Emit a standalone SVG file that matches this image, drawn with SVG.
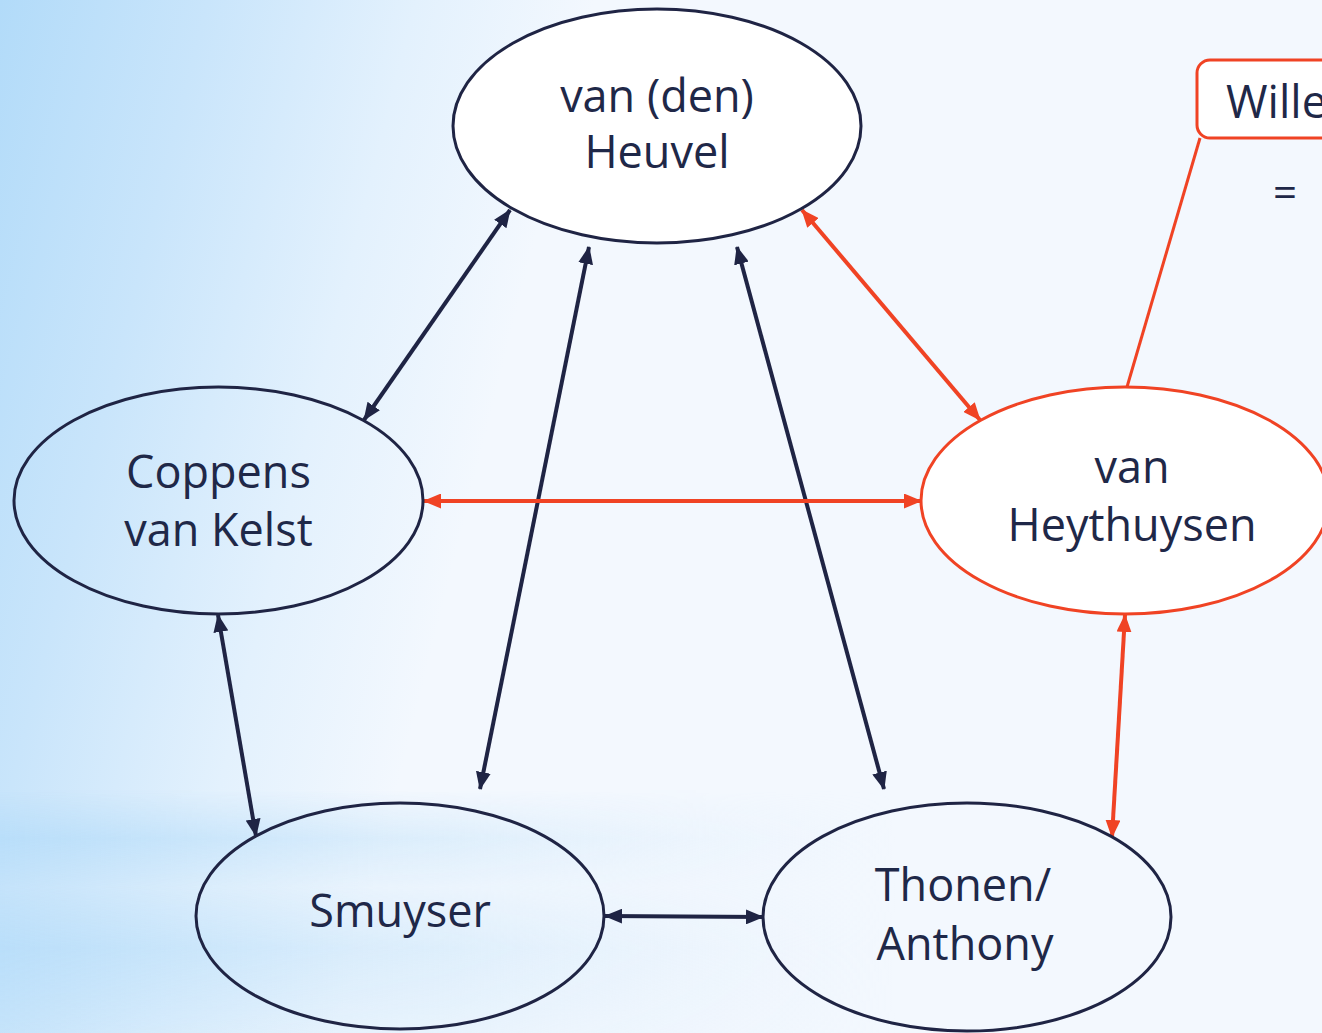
<svg xmlns="http://www.w3.org/2000/svg" width="1322" height="1033" viewBox="0 0 1322 1033">
  <defs>
    <linearGradient id="bg" gradientUnits="userSpaceOnUse" x1="0" y1="0" x2="560" y2="140">
      <stop offset="0" stop-color="#b2dbf9"/>
      <stop offset="0.35" stop-color="#c9e5fb"/>
      <stop offset="0.7" stop-color="#e3f1fd"/>
      <stop offset="1" stop-color="#f3f8fe"/>
    </linearGradient>
    <linearGradient id="band" gradientUnits="userSpaceOnUse" x1="0" y1="0" x2="900" y2="0">
      <stop offset="0" stop-color="#b2dbf9" stop-opacity="0.9"/>
      <stop offset="0.5" stop-color="#c4e3fa" stop-opacity="0.55"/>
      <stop offset="1" stop-color="#e0effc" stop-opacity="0"/>
    </linearGradient>
    <linearGradient id="bandMaskGrad" gradientUnits="userSpaceOnUse" x1="0" y1="790" x2="0" y2="1033">
      <stop offset="0" stop-color="#fff" stop-opacity="0"/>
      <stop offset="0.2" stop-color="#fff" stop-opacity="0.8"/>
      <stop offset="0.4" stop-color="#fff" stop-opacity="0.3"/>
      <stop offset="0.65" stop-color="#fff" stop-opacity="0.8"/>
      <stop offset="1" stop-color="#fff" stop-opacity="0.4"/>
    </linearGradient>
    <mask id="bandMask">
      <rect x="0" y="790" width="1322" height="243" fill="url(#bandMaskGrad)"/>
    </mask>
    <marker id="ad" viewBox="0 0 18 15" refX="17" refY="7.5" markerWidth="18" markerHeight="15" markerUnits="userSpaceOnUse" orient="auto-start-reverse">
      <path d="M0,0 L18,7.5 L0,15 z" fill="#1f2444"/>
    </marker>
    <marker id="ar" viewBox="0 0 18 15" refX="17" refY="7.5" markerWidth="18" markerHeight="15" markerUnits="userSpaceOnUse" orient="auto-start-reverse">
      <path d="M0,0 L18,7.5 L0,15 z" fill="#f04324"/>
    </marker>
  </defs>
  <style>
    .lbl { font-family: "Open Sans", "Noto Sans", "DejaVu Sans", sans-serif; font-size: 45px; fill: #1f2848; text-anchor: middle; }
    .nd { stroke: #1f2444; stroke-width: 3; fill: none; }
    .nw { stroke: #1f2444; stroke-width: 3; fill: #ffffff; }
    .nr { stroke: #f04324; stroke-width: 3; fill: #ffffff; }
    .cd { stroke: #1f2444; stroke-width: 4; fill: none; marker-start: url(#ad); marker-end: url(#ad); }
    .cr { stroke: #f04324; stroke-width: 4; fill: none; marker-start: url(#ar); marker-end: url(#ar); }
  </style>

  <rect x="0" y="0" width="1322" height="1033" fill="url(#bg)"/>
  <rect x="0" y="790" width="1322" height="243" fill="url(#band)" mask="url(#bandMask)"/>

  <g id="connectors">
    <line class="cd" x1="510" y1="210" x2="364" y2="420"/>
    <line class="cd" x1="589" y1="247" x2="480" y2="789"/>
    <line class="cd" x1="737" y1="247" x2="884" y2="789"/>
    <line class="cr" x1="802" y1="210" x2="980" y2="420"/>
    <line class="cr" x1="424" y1="501" x2="921" y2="501"/>
    <line class="cd" x1="218" y1="615" x2="256" y2="836"/>
    <line class="cr" x1="1125" y1="615" x2="1112" y2="837"/>
    <line class="cd" x1="605" y1="916" x2="763" y2="917"/>
    <line stroke="#f04324" stroke-width="3" x1="1200" y1="138" x2="1127" y2="387"/>
  </g>

  <g id="node-heuvel">
    <ellipse class="nw" cx="657" cy="126" rx="204" ry="117"/>
    <text class="lbl" x="657" y="112">van (den)</text>
    <text class="lbl" x="657" y="168">Heuvel</text>
  </g>

  <g id="node-coppens">
    <ellipse class="nd" cx="218.5" cy="500.5" rx="204.5" ry="113.5"/>
    <text class="lbl" x="218.5" y="488">Coppens</text>
    <text class="lbl" x="218.5" y="546">van Kelst</text>
  </g>

  <g id="node-heythuysen">
    <ellipse class="nr" cx="1125" cy="500.5" rx="204" ry="113.5"/>
    <text class="lbl" x="1132" y="483">van</text>
    <text class="lbl" x="1132" y="541">Heythuysen</text>
  </g>

  <g id="node-smuyser">
    <ellipse class="nd" cx="400" cy="916" rx="204" ry="113"/>
    <text class="lbl" x="400" y="927">Smuyser</text>
  </g>

  <g id="node-thonen">
    <ellipse class="nd" cx="967" cy="917" rx="204" ry="114"/>
    <text class="lbl" x="963" y="901">Thonen/</text>
    <text class="lbl" x="965" y="960">Anthony</text>
  </g>

  <g id="node-wille">
    <rect x="1197" y="60" width="200" height="78" rx="13" ry="13" fill="#ffffff" stroke="#f04324" stroke-width="3"/>
    <text class="lbl" x="1226" y="118" style="text-anchor:start">Wille</text>
    <text class="lbl" x="1285" y="207" style="font-size:42px">=</text>
  </g>
</svg>
